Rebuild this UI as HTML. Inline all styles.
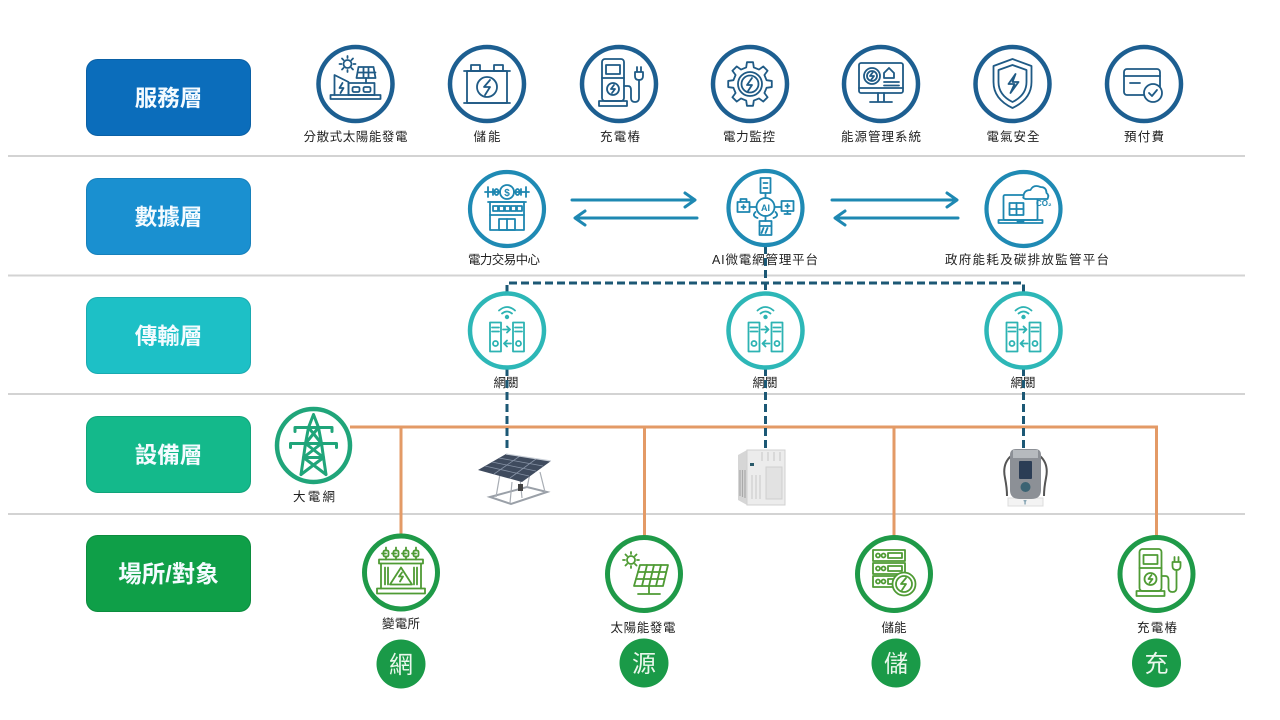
<!DOCTYPE html>
<html><head><meta charset="utf-8">
<style>
html,body{margin:0;padding:0;background:#fff;}
svg{display:block;}
text{font-family:"Liberation Sans","Noto Sans CJK TC",sans-serif;}
</style></head><body>
<svg xmlns="http://www.w3.org/2000/svg" width="1280" height="720" viewBox="0 0 1280 720">
<rect width="1280" height="720" fill="#fff"/>

<!-- separators -->
<g stroke="#d3d3d3" stroke-width="2">
<line x1="8" y1="156" x2="1245" y2="156"/>
<line x1="8" y1="275.5" x2="1245" y2="275.5"/>
<line x1="8" y1="394" x2="1245" y2="394"/>
<line x1="8" y1="514" x2="1245" y2="514"/>
</g>

<!-- layer label boxes -->
<g font-weight="bold" font-size="22.5" fill="#f4fbff" text-anchor="middle">
<rect x="86.5" y="59.5" width="164" height="76" rx="11" fill="#0b6dbb" stroke="#0a60a5"/>
<text x="168.5" y="106">服務層</text>
<rect x="86.5" y="178.5" width="164" height="76" rx="11" fill="#1a90d0" stroke="#1680bb"/>
<text x="168.5" y="225">數據層</text>
<rect x="86.5" y="297.5" width="164" height="76" rx="11" fill="#1dc0c6" stroke="#19aab0"/>
<text x="168.5" y="344">傳輸層</text>
<rect x="86.5" y="416.5" width="164" height="76" rx="11" fill="#14b98b" stroke="#10a47a"/>
<text x="168.5" y="463">設備層</text>
<rect x="86.5" y="535.5" width="164" height="76" rx="11" fill="#0f9f48" stroke="#0c8c3e"/>
<text x="168.5" y="582" font-size="23.5">場所/對象</text>
</g>

<!-- labels -->
<g font-size="12.5" fill="#222" text-anchor="middle" lengthAdjust="spacing">
<text x="355.5" y="141" textLength="104" lengthAdjust="spacing">分散式太陽能發電</text>
<text x="487" y="141" textLength="27" lengthAdjust="spacing">儲能</text>
<text x="620" y="141" textLength="40" lengthAdjust="spacing">充電樁</text>
<text x="749" y="141" textLength="52" lengthAdjust="spacing">電力監控</text>
<text x="881" y="141" textLength="80" lengthAdjust="spacing">能源管理系統</text>
<text x="1013" y="141" textLength="53" lengthAdjust="spacing">電氣安全</text>
<text x="1144" y="141" textLength="40" lengthAdjust="spacing">預付費</text>

<text x="504" y="264" textLength="72" lengthAdjust="spacing">電力交易中心</text>
<text x="765" y="264" textLength="106" lengthAdjust="spacing">AI微電網管理平台</text>
<text x="1027" y="264" textLength="164" lengthAdjust="spacing">政府能耗及碳排放監管平台</text>

<text x="506" y="387" textLength="25" lengthAdjust="spacing">網關</text>
<text x="765" y="387" textLength="25" lengthAdjust="spacing">網關</text>
<text x="1023" y="387" textLength="25" lengthAdjust="spacing">網關</text>

<text x="314" y="501" textLength="42" lengthAdjust="spacing">大電網</text>

<text x="401" y="628" textLength="38" lengthAdjust="spacing">變電所</text>
<text x="643" y="632" textLength="65" lengthAdjust="spacing">太陽能發電</text>
<text x="894" y="632" textLength="25" lengthAdjust="spacing">儲能</text>
<text x="1157" y="632" textLength="40" lengthAdjust="spacing">充電樁</text>
</g>

<!-- arrows -->
<g stroke="#1e88b2" stroke-width="3" fill="none" stroke-linecap="round" stroke-linejoin="round">
<path d="M572 200 H694 M685 193 L695 200 L685 207"/>
<path d="M576 218 H697 M585 211 L575 218 L585 225"/>
<path d="M832 200 H956 M947 193 L957 200 L947 207"/>
<path d="M836 218 H958 M845 211 L835 218 L845 225"/>
</g>

<!-- orange power lines -->
<g stroke="#e39a66" stroke-width="3" fill="none">
<path d="M350 427 H1156.5 V536"/>
<path d="M401 427 V535 M644.5 427 V537 M894 427 V537"/>
</g>

<!-- dashed comm lines -->
<g stroke="#1c5875" stroke-width="3" stroke-dasharray="8 4" fill="none">
<path d="M507 293 V283 H1023.5 V293"/>
<path d="M765.5 246 V293"/>
<path d="M507 368 V448 M765.5 368 V448 M1023.5 368 V448"/>
</g>

<!-- service layer circles -->
<g fill="#fff" stroke="#1d5f91" stroke-width="4.5">
<circle cx="355.5" cy="84" r="37"/>
<circle cx="487" cy="84" r="37"/>
<circle cx="619" cy="84" r="37"/>
<circle cx="750" cy="84" r="37"/>
<circle cx="881" cy="84" r="37"/>
<circle cx="1012.5" cy="84" r="37"/>
<circle cx="1144" cy="84" r="37"/>
</g>
<g fill="none" stroke="#1f5a85" stroke-width="1.8" stroke-linejoin="round" stroke-linecap="round">
<!-- solar house -->
<g transform="translate(355.5,84)">
<circle cx="-8" cy="-20" r="4"/>
<path d="M-8 -28v2 M-8 -14v2 M-16 -20h2 M-2 -20h2 M-13.5 -25.5l1.5 1.5 M-4 -16l1.5 1.5 M-13.5 -14.5l1.5 -1.5 M-4 -24l1.5 -1.5"/>
<path d="M3 -17 h15 l2 11 h-19 z M8 -17 v11 M13 -17 v11 M2 -11.5 h18"/>
<path d="M10.5 -6 v5"/>
<path d="M-21 11 V-9 L-7 -2 V11"/>
<path d="M-13 -1 l-3 5 h4 l-3 5"/>
<rect x="-7" y="-1" width="26" height="12"/>
<rect x="-3" y="3" width="7" height="5" rx="1.5"/><rect x="8" y="3" width="7" height="5" rx="1.5"/>
<rect x="-25" y="11" width="50" height="4"/>
</g>
<!-- battery -->
<g transform="translate(487,84)">
<rect x="-20" y="-13" width="40" height="32"/>
<path d="M-23 -13 h46 M-23 19 h46"/>
<rect x="-16" y="-19" width="9" height="6"/><rect x="7" y="-19" width="9" height="6"/>
<circle cx="0" cy="3" r="10"/>
<path d="M3 -4 l-6 7 h6 l-5 8"/>
</g>
<!-- charger -->
<g transform="translate(619,84)">
<rect x="-17" y="-25" width="22" height="42" rx="3"/>
<rect x="-13" y="-19" width="14" height="9"/>
<path d="M-17 -6 h22"/>
<circle cx="-6" cy="5" r="6"/>
<path d="M-5 1 l-3 4 h4 l-3 4"/>
<rect x="-20" y="17" width="28" height="5"/>
<path d="M5 2 h4 q3 0 3 4 v8 q0 4 4 4 q4 0 4 -4 v-18"/>
<path d="M16 -12 h8 v4 q0 4 -4 4 q-4 0 -4 -4 z M18 -12 v-5 M22 -12 v-5"/>
</g>
<!-- gear -->
<g transform="translate(750,84)">
<path d="M16.56 -3.82 L21.79 -3.06 L21.79 3.06 L16.56 3.82 L14.42 9.01 L17.57 13.24 L13.24 17.57 L9.01 14.42 L3.82 16.56 L3.06 21.79 L-3.06 21.79 L-3.82 16.56 L-9.01 14.42 L-13.24 17.57 L-17.57 13.24 L-14.42 9.01 L-16.56 3.82 L-21.79 3.06 L-21.79 -3.06 L-16.56 -3.82 L-14.42 -9.01 L-17.57 -13.24 L-13.24 -17.57 L-9.01 -14.42 L-3.82 -16.56 L-3.06 -21.79 L3.06 -21.79 L3.82 -16.56 L9.01 -14.42 L13.24 -17.57 L17.57 -13.24 L14.42 -9.01 Z"/>
<circle r="12"/><circle r="8.5"/>
<path d="M2 -6 l-5 7 h5 l-4 6"/>
</g>
<!-- monitor -->
<g transform="translate(881,84)">
<rect x="-22" y="-21" width="44" height="30" rx="2"/>
<path d="M-22 4 h44 M-3 9 v8 M3 9 v8 M-11 18 h22"/>
<circle cx="-9" cy="-8" r="8"/><circle cx="-9" cy="-8" r="5"/>
<path d="M-8 -12 l-3 4 h4 l-3 4"/>
<path d="M3 -11 l5 -5 l5 5 v5 h-10 z"/>
<path d="M3 -2 h15 M3 1.5 h15"/>
</g>
<!-- shield -->
<g transform="translate(1012.5,84)">
<path d="M0 -25 L19 -18 V-2 Q19 15 0 24 Q-19 15 -19 -2 V-18 Z"/>
<path d="M0 -19 L14 -14 V-2 Q14 11 0 18 Q-14 11 -14 -2 V-14 Z"/>
<path d="M3 -10 l-7 10 h6 l-4 9 l8 -11 h-6 z"/>
</g>
<!-- card -->
<g transform="translate(1144,84)">
<rect x="-20" y="-15" width="36" height="26" rx="3"/>
<path d="M-20 -8 h36 M-14 -1 h10"/>
<circle cx="9" cy="9" r="9" fill="#fff"/>
<path d="M5 9 l3 3 l5 -6"/>
</g>
</g>

<!-- data layer circles -->
<g fill="#fff" stroke="#1f8ab4" stroke-width="4.2">
<circle cx="507" cy="209" r="37"/>
<circle cx="765.5" cy="208" r="37"/>
<circle cx="1023.5" cy="209" r="37"/>
</g>
<g fill="none" stroke="#1d86b0" stroke-width="1.8" stroke-linejoin="round" stroke-linecap="round">
<g transform="translate(507,209)">
<circle cx="0" cy="-17" r="7"/>
<path d="M-22 -17 h15 M7 -17 h15 M-19 -22 v10 M19 -22 v10 M-14 -20 v6 M14 -20 v6"/>
<ellipse cx="-10.5" cy="-17" rx="2" ry="3"/><ellipse cx="10.5" cy="-17" rx="2" ry="3"/>
<path d="M-19 -7 h38"/>
<rect x="-17" y="-7" width="34" height="28"/>
<rect x="-14" y="-3" width="5" height="5"/><rect x="-8" y="-3" width="5" height="5"/><rect x="-2" y="-3" width="5" height="5"/><rect x="4" y="-3" width="5" height="5"/><rect x="10" y="-3" width="5" height="5"/>
<path d="M-17 6 h34"/>
<rect x="-8" y="10" width="16" height="11"/><path d="M0 10 v11"/>
</g>
<g transform="translate(765.5,208)">
<circle cx="0" cy="-1" r="9"/>
<path d="M-9 -1 h-7 M9 -1 h7 M0 -10 v-5 M0 8 v5"/>
<rect x="-5" y="-30" width="10" height="15"/>
<path d="M-2 -25 h4 M-2 -20 h4"/>
<rect x="-28" y="-6" width="12" height="10"/><path d="M-25 -6 v-3 h6 v3 M-22 -3 v4 M-24 -1 h4"/>
<rect x="16" y="-7" width="12" height="10"/><path d="M22 3 v3 M19 6 h6 M22 -4 v4 M20 -2 h4"/>
<rect x="-6" y="13" width="12" height="14"/><path d="M-6 18 h12 M-2 20 l-2 5 M2 20 l-2 5"/>
<path d="M-10 4 q-4 4 2 6 M10 4 q4 4 -2 6"/>
</g>
<g transform="translate(1023.5,209)">
<rect x="-20" y="-14" width="34" height="25" rx="1.5"/>
<path d="M-25 11 h44 v3 h-44 z M-6 11 v1.5 h6 v-1.5"/>
<rect x="-14" y="-6" width="14" height="12"/><path d="M-7 -6 v12 M-14 0 h14"/>
<path d="M0 -12 q0 -7 7 -7 q3 -6 10 -3 q6 0 6 6 q3 2 1 6 h-22 q-3 -1 -2 -2z" fill="#fff"/>
</g>
</g>
<text x="1036" y="-3" transform="translate(0,209)" font-size="8" font-weight="bold" fill="#1d86b0" font-family="Liberation Sans, sans-serif">CO₂</text>
<text x="765.5" y="211" font-size="9" font-weight="bold" fill="#1d86b0" text-anchor="middle">AI</text>
<text x="507" y="-13" transform="translate(0,209)" font-size="10" font-weight="bold" fill="#1d86b0" text-anchor="middle">$</text>

<!-- gateway circles -->
<g fill="#fff" stroke="#2db7b7" stroke-width="4.5">
<circle cx="507" cy="330.5" r="37"/>
<circle cx="765.5" cy="330.5" r="37"/>
<circle cx="1023.5" cy="330.5" r="37"/>
</g>
<g fill="none" stroke="#2db3b3" stroke-width="1.8" stroke-linejoin="round" stroke-linecap="round">
<g id="gw" transform="translate(507,330.5)">
<path d="M-8 -20 q8 -7 16 0 M-5 -17 q5 -4 10 0"/>
<circle cx="0" cy="-13.5" r="1.3" fill="#2db3b3"/>
<rect x="-17" y="-8" width="11" height="29"/>
<rect x="6" y="-8" width="11" height="29"/>
<path d="M-15 -3 h7 M-15 1 h7 M8 -3 h7 M8 1 h7"/>
<circle cx="-11.5" cy="13" r="2.5"/><circle cx="11.5" cy="13" r="2.5"/>
<path d="M-4 -1 h7 M0 -4 l3 3 l-3 3 M4 13 h-7 M0 10 l-3 3 l3 3"/>
</g>
<g transform="translate(765.5,330.5)">
<path d="M-8 -20 q8 -7 16 0 M-5 -17 q5 -4 10 0"/>
<circle cx="0" cy="-13.5" r="1.3" fill="#2db3b3"/>
<rect x="-17" y="-8" width="11" height="29"/>
<rect x="6" y="-8" width="11" height="29"/>
<path d="M-15 -3 h7 M-15 1 h7 M8 -3 h7 M8 1 h7"/>
<circle cx="-11.5" cy="13" r="2.5"/><circle cx="11.5" cy="13" r="2.5"/>
<path d="M-4 -1 h7 M0 -4 l3 3 l-3 3 M4 13 h-7 M0 10 l-3 3 l3 3"/>
</g>
<g transform="translate(1023.5,330.5)">
<path d="M-8 -20 q8 -7 16 0 M-5 -17 q5 -4 10 0"/>
<circle cx="0" cy="-13.5" r="1.3" fill="#2db3b3"/>
<rect x="-17" y="-8" width="11" height="29"/>
<rect x="6" y="-8" width="11" height="29"/>
<path d="M-15 -3 h7 M-15 1 h7 M8 -3 h7 M8 1 h7"/>
<circle cx="-11.5" cy="13" r="2.5"/><circle cx="11.5" cy="13" r="2.5"/>
<path d="M-4 -1 h7 M0 -4 l3 3 l-3 3 M4 13 h-7 M0 10 l-3 3 l3 3"/>
</g>
</g>

<!-- tower -->
<circle cx="313.5" cy="445.5" r="36.5" fill="#fff" stroke="#20a57a" stroke-width="4.5"/>
<g transform="translate(313.5,445.5)" fill="none" stroke="#20a57a" stroke-width="3" stroke-linejoin="round" stroke-linecap="round">
<path d="M0 -31 L-5 -18 L-8 -2 L-10 12 L-12.5 29 M0 -31 L5 -18 L8 -2 L10 12 L12.5 29"/>
<path d="M-18.5 -18 H18.5 M-18.5 -18 v4 M18.5 -18 v4 M-23 -2 H23 M-23 -2 v4 M23 -2 v4"/>
<path d="M-5 -18 L8 -2 M5 -18 L-8 -2 M-8 -2 L10 12 M8 -2 L-10 12 M-10 12 H10 M-10 12 L12.5 29 M10 12 L-12.5 29"/>
</g>

<!-- device: solar panel -->
<g>
<path d="M490 497 L527 487 L547 492 L511 504 Z" fill="none" stroke="#9aa0a8" stroke-width="2"/>
<path d="M500 474 L496 497 M531 468 L527 488 M540 472 L545 492 M512 482 L510 503 M520 478 L522 498" stroke="#a8adb4" stroke-width="1.2"/>
<path d="M478 470 L506 454 L551 461 L522 482 Z" fill="#3f4b5e"/>
<path d="M492 462 L536 471 M485 466 L529 476 M499 458 L543 466" stroke="#8793a6" stroke-width="0.8"/>
<path d="M494 474 L520 456 M510 478 L536 459" stroke="#8793a6" stroke-width="0.8"/>
<path d="M506 454 L551 461" stroke="#c8ced6" stroke-width="1.2"/>
<rect x="518" y="484" width="5" height="7" fill="#444"/>
</g>

<!-- device: PCS cabinet -->
<g>
<path d="M738 455 L747 450 L747 505 L738 500 Z" fill="#d6d6d6"/>
<rect x="747" y="450" width="38" height="55" fill="#ececec"/>
<rect x="747" y="450" width="38" height="55" fill="none" stroke="#d0d0d0"/>
<path d="M740 470 v26 M742.5 470 v27 M745 470 v28" stroke="#a9a9a9" stroke-width="1.2"/>
<path d="M762 452 v9 M768 452 v9 M774 452 v9 M780 452 v9" stroke="#c6c6c6"/>
<path d="M752 475 v24 M756 475 v24 M760 475 v24" stroke="#c8c8c8"/>
<rect x="750" y="463" width="4" height="3" fill="#2a5a6a"/>
<rect x="766" y="467" width="16" height="32" fill="#e2e2e2" stroke="#cfcfcf"/>
</g>

<!-- device: EV charger -->
<g>
<path d="M1011 456 q-9 8 -6 22 q2 10 2 18 M1040 456 q9 8 6 22 q-2 10 -2 18" fill="none" stroke="#555" stroke-width="2"/>
<path d="M1008 498 h35 v8 h-35 z" fill="#f3f3f3" stroke="#dcdcdc"/>
<path d="M1010 455 q0 -6 6 -6 h19 q6 0 6 6 v35 q0 9 -10 9 h-11 q-10 0 -10 -9 z" fill="#8c9096"/>
<path d="M1013 450 h25 v8 h-25 z" fill="#b6babe"/>
<rect x="1019" y="461" width="13" height="18" rx="1" fill="#2b3d55"/>
<circle cx="1025.5" cy="487" r="5" fill="#3b6373"/>
<text x="1025" y="504.5" font-size="5" fill="#1c5875" text-anchor="middle" font-weight="bold">T</text>
</g>

<!-- bottom layer circles -->
<g fill="#fff" stroke="#1f9a48" stroke-width="5">
<circle cx="401" cy="572.5" r="36.5"/>
<circle cx="644" cy="574" r="36.5"/>
<circle cx="894" cy="574" r="36.5"/>
<circle cx="1156.5" cy="574" r="36.5"/>
</g>
<g fill="none" stroke="#4f9b34" stroke-width="1.8" stroke-linejoin="round" stroke-linecap="round">
<g transform="translate(401,572.5)">
<path d="M-15 -13 v-3 M-5 -13 v-3 M5 -13 v-3 M15 -13 v-3"/>
<rect x="-17.5" y="-22" width="5" height="6" rx="1.5"/><rect x="-7.5" y="-22" width="5" height="6" rx="1.5"/><rect x="2.5" y="-22" width="5" height="6" rx="1.5"/><rect x="12.5" y="-22" width="5" height="6" rx="1.5"/>
<path d="M-19 -19 h4 M-9 -19 h4 M1 -19 h4 M11 -19 h4 M-15 -25 v3 M-5 -25 v3 M5 -25 v3 M15 -25 v3"/>
<rect x="-22" y="-13" width="44" height="4"/>
<path d="M-20 -9 v25 M20 -9 v25 M-16 -5 v17 M16 -5 v17 M-13 -5 v17 M13 -5 v17"/>
<path d="M0 -5 L11 12 H-11 Z"/>
<path d="M1 0 l-3 4 h4 l-3 5"/>
<rect x="-24" y="16" width="48" height="5"/>
</g>
<g transform="translate(644,574)">
<circle cx="-13" cy="-14" r="4"/>
<path d="M-13 -22v2 M-13 -8v2 M-21 -14h2 M-7 -14h2 M-18.5 -19.5l1.5 1.5 M-9 -10l1.5 1.5 M-18.5 -8.5l1.5 -1.5 M-9 -18l1.5 -1.5"/>
<path d="M-4 -9 H24 L19 12 H-10 Z"/>
<path d="M-6 -2 H22 M-8 5 H20.5 M3 -9 L-2 12 M10 -9 L5 12 M17 -9 L12 12"/>
<path d="M5 12 v7 M-6 20 h22"/>
</g>
<g transform="translate(894,574)">
<rect x="-21" y="-24" width="32" height="11"/><rect x="-21" y="-11" width="32" height="11"/><rect x="-21" y="2" width="32" height="11"/>
<circle cx="-16" cy="-18.5" r="2"/><circle cx="-10.5" cy="-18.5" r="2"/>
<circle cx="-16" cy="-5.5" r="2"/><circle cx="-10.5" cy="-5.5" r="2"/>
<circle cx="-16" cy="7.5" r="2"/><circle cx="-10.5" cy="7.5" r="2"/>
<rect x="-6" y="-21" width="14" height="5"/><rect x="-6" y="-8" width="14" height="5"/><rect x="-6" y="5" width="10" height="5"/>
<circle cx="10" cy="10" r="11.5" fill="#fff"/><circle cx="10" cy="10" r="8"/>
<path d="M12 4 l-5 6 h5 l-4 6"/>
</g>
<g transform="translate(1156.5,574)">
<rect x="-17" y="-25" width="22" height="42" rx="3"/>
<rect x="-13" y="-19" width="14" height="9"/>
<path d="M-17 -6 h22"/>
<circle cx="-6" cy="5" r="6"/>
<path d="M-5 1 l-3 4 h4 l-3 4"/>
<rect x="-20" y="17" width="28" height="5"/>
<path d="M5 2 h4 q3 0 3 4 v8 q0 4 4 4 q4 0 4 -4 v-18"/>
<path d="M16 -12 h8 v4 q0 4 -4 4 q-4 0 -4 -4 z M18 -12 v-5 M22 -12 v-5"/>
</g>
</g>

<!-- filled category circles -->
<g fill="#1a9a48">
<circle cx="401" cy="664" r="24.5"/>
<circle cx="644" cy="663" r="24.5"/>
<circle cx="896" cy="663" r="24.5"/>
<circle cx="1156.5" cy="663" r="24.5"/>
</g>
<g fill="#eaf7ec" font-size="24" text-anchor="middle">
<text x="401" y="673">網</text>
<text x="644" y="672">源</text>
<text x="896" y="672">儲</text>
<text x="1156.5" y="672">充</text>
</g>
</svg>
</body></html>
